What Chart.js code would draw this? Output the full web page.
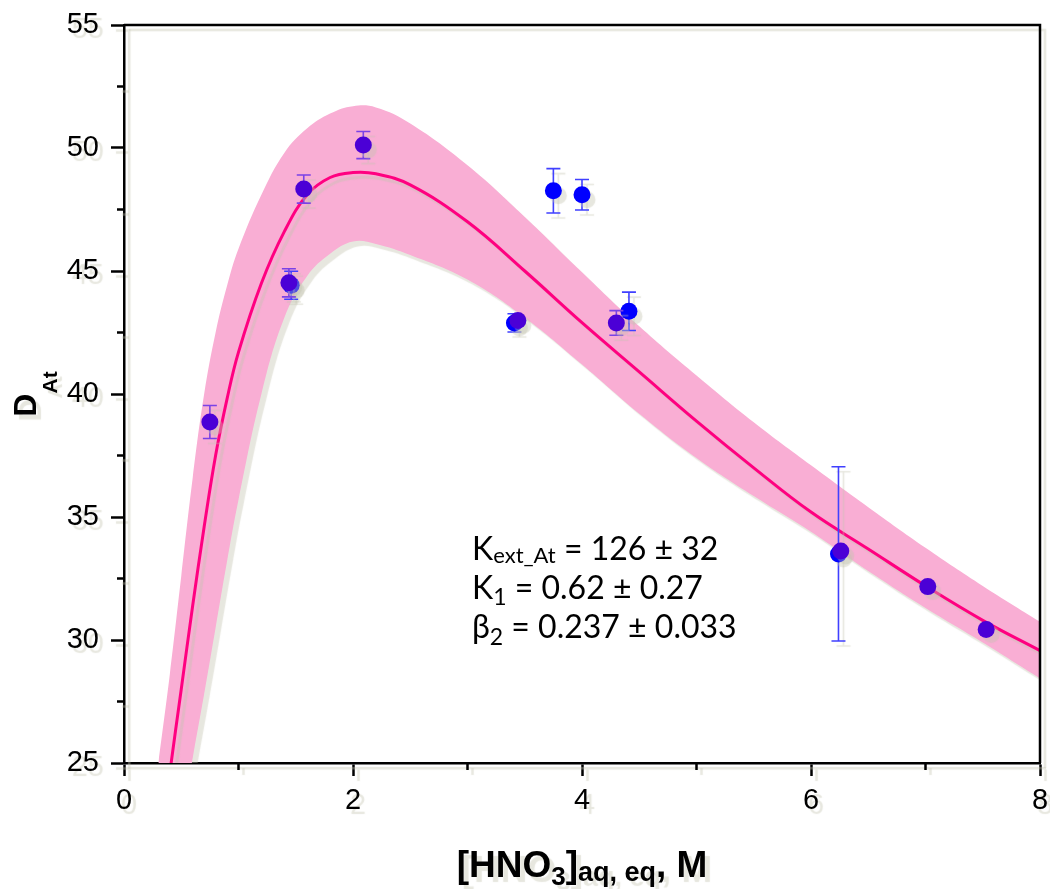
<!DOCTYPE html>
<html>
<head>
<meta charset="utf-8">
<script src="https://cdn.jsdelivr.net/npm/chart.js@4.4.0/dist/chart.umd.min.js"></script>
<style>
    html, body { margin: 0; padding: 0; background: #fff; }
    #wrap { width: 1050px; height: 889px; }
</style>
</head>
<body>
<div id="wrap"><canvas id="chart"></canvas></div>
<script>
// measured points (purple set, drawn on top)
const purpleX = [0.75, 1.44, 1.57, 2.09, 3.44, 4.30, 6.26, 7.02, 7.53];
const purpleY = [38.86, 44.52, 48.33, 50.12, 42.99, 42.89, 33.62, 32.17, 30.43];
const purpleErr = [0.67, 0.57, 0.57, 0.55, 0, 0.50, 0, 0, 0];

// measured points (blue set)
const blueX = [1.46, 3.41, 3.75, 4.00, 4.41, 6.24];
const blueY = [44.42, 42.89, 48.26, 48.10, 43.36, 33.50];
const blueErr = [0.57, 0.37, 0.90, 0.62, 0.78, 3.54];

// fitted curve and its confidence band
const fitX = [0.3, 0.4, 0.5, 0.6, 0.7, 0.8, 0.9, 1.0, 1.2, 1.4, 1.6, 1.8, 2.0, 2.2, 2.5, 3.0, 3.5, 4.0, 4.5, 5.0, 5.5, 6.0, 6.5, 7.0, 7.5, 8.0];
const fitY = [21.0, 24.6, 28.0, 31.4, 34.6, 37.5, 39.8, 41.7, 44.5, 46.6, 48.1, 48.8, 49.0, 48.95, 48.5, 47.0, 45.0, 42.9, 40.9, 38.9, 37.0, 35.2, 33.7, 32.2, 30.8, 29.57];
const bandUpper = [25.0, 28.6, 32.6, 36.6, 40.0, 42.5, 44.4, 45.9, 48.1, 49.8, 50.8, 51.4, 51.7, 51.65, 51.0, 49.3, 47.2, 44.95, 42.75, 40.75, 38.85, 37.1, 35.4, 33.75, 32.2, 30.74];
const bandLower = [16.5, 19.6, 22.5, 25.2, 27.8, 30.5, 33.2, 35.7, 40.0, 43.1, 44.8, 45.7, 46.2, 46.1, 45.65, 44.65, 43.1, 41.2, 39.2, 37.4, 35.85, 34.4, 32.8, 31.3, 29.9, 28.44];

// minor tick positions
const minorX = [1, 3, 5, 7];
const minorY = [27.5, 32.5, 37.5, 42.5, 47.5, 52.5];

const fitText = [
    [['K', 32, 0], ['ext_At', 22, 3], [' = 126 \u00b1 32', 32, 0]],
    [['K', 32, 0], ['1', 23, 6], [' = 0.62 \u00b1 0.27', 32, 0]],
    [['\u03b2', 32, 0], ['2', 23, 7], [' = 0.237 \u00b1 0.033', 32, 0]]
];

function toPoints(xs, ys) {
    return xs.map((x, i) => ({ x: x, y: ys[i] }));
}

function drawRuns(ctx, runs, x, y, center) {
    let total = 0;
    runs.forEach(r => { ctx.font = r.font; r.w = ctx.measureText(r.text).width; total += r.w; });
    let cx = center ? x - total / 2 : x;
    runs.forEach(r => {
        ctx.font = r.font;
        ctx.fillText(r.text, cx, y + (r.dy || 0));
        cx += r.w;
    });
}

// grey offset "ghost" that the original export has on everything
const ghostShadow = {
    id: 'ghostShadow',
    beforeDraw(chart) {
        const ctx = chart.ctx;
        ctx.save();
        ctx.shadowColor = 'rgba(195,195,175,0.4)';
        ctx.shadowOffsetX = 5;
        ctx.shadowOffsetY = 5;
        ctx.shadowBlur = 1;
    },
    afterDraw(chart) {
        chart.ctx.restore();
    }
};

const errorBars = {
    id: 'errorBars',
    beforeDatasetDraw(chart, args) {
        const ds = chart.data.datasets[args.index];
        if (!ds.yErr) return;
        const ctx = chart.ctx;
        const xs = chart.scales.x, ys = chart.scales.y;
        ctx.save();
        ctx.strokeStyle = ds.errColor;
        ctx.lineWidth = 1.6;
        ds.data.forEach((p, i) => {
            const e = ds.yErr[i];
            if (!e) return;
            const px = xs.getPixelForValue(p.x);
            const top = ys.getPixelForValue(p.y + e);
            const bot = ys.getPixelForValue(p.y - e);
            ctx.beginPath();
            ctx.moveTo(px, top); ctx.lineTo(px, bot);
            ctx.moveTo(px - 7, top); ctx.lineTo(px + 7, top);
            ctx.moveTo(px - 7, bot); ctx.lineTo(px + 7, bot);
            ctx.stroke();
        });
        ctx.restore();
    }
};

const extras = {
    id: 'extras',
    beforeDraw(chart) {
        const ctx = chart.ctx;
        const area = chart.chartArea;
        ctx.save();
        ctx.fillStyle = '#000';
        ctx.textAlign = 'left';
        ctx.textBaseline = 'alphabetic';
        const bold = s => 'bold ' + s + 'px "Liberation Sans", Arial, sans-serif';
        // x title
        drawRuns(ctx, [
            { text: '[HNO', font: bold(37) },
            { text: '3', font: bold(26), dy: 8 },
            { text: ']', font: bold(37) },
            { text: 'aq, eq', font: bold(27), dy: 4 },
            { text: ', M', font: bold(37) }
        ], (area.left + area.right) / 2, 877, true);
        // y title
        ctx.translate(36, (area.top + area.bottom) / 2);
        ctx.rotate(-Math.PI / 2);
        drawRuns(ctx, [
            { text: 'D', font: bold(32) },
            { text: 'At', font: bold(21), dy: 21 }
        ], 0, 0, true);
        ctx.restore();
    },
    afterDatasetsDraw(chart) {
        const ctx = chart.ctx;
        const area = chart.chartArea;
        const xs = chart.scales.x, ys = chart.scales.y;
        ctx.save();
        ctx.strokeStyle = '#000';
        ctx.lineWidth = 2.5;
        ctx.beginPath();
        ctx.moveTo(area.left, area.top); ctx.lineTo(area.right, area.top);
        ctx.lineTo(area.right, area.bottom);
        ctx.stroke();
        ctx.beginPath();
        minorX.forEach(v => {
            const px = xs.getPixelForValue(v);
            ctx.moveTo(px, area.bottom); ctx.lineTo(px, area.bottom + 7);
        });
        minorY.forEach(v => {
            const py = ys.getPixelForValue(v);
            ctx.moveTo(area.left, py); ctx.lineTo(area.left - 7, py);
        });
        ctx.stroke();
        ctx.restore();
    },
    afterDraw(chart) {
        // fit parameters, no ghost here
        const ctx = chart.ctx;
        ctx.save();
        ctx.fillStyle = '#000';
        ctx.textAlign = 'left';
        ctx.textBaseline = 'alphabetic';
        const baselines = [560, 599, 638];
        fitText.forEach((line, i) => {
            const runs = line.map(r => ({ text: r[0], font: r[1] + 'px Lato, "Noto Sans", sans-serif', dy: r[2] }));
            drawRuns(ctx, runs, 472, baselines[i], false);
        });
        ctx.restore();
    }
};

function noPadding(scale) {
    scale.paddingLeft = 0;
    scale.paddingRight = 0;
    scale.paddingTop = 0;
    scale.paddingBottom = 0;
}

const axisFont = { family: '"Liberation Sans", Arial, sans-serif', size: 29 };

new Chart(document.getElementById('chart'), {
    type: 'scatter',
    data: {
        datasets: [{
            label: 'purple',
            data: toPoints(purpleX, purpleY),
            yErr: purpleErr,
            errColor: '#7a42e6',
            backgroundColor: '#4b00d6',
            borderWidth: 0,
            pointRadius: 8.5
        }, {
            label: 'blue',
            data: toPoints(blueX, blueY),
            yErr: blueErr,
            errColor: '#4040ff',
            backgroundColor: '#0000ff',
            borderWidth: 0,
            pointRadius: 8.5
        }, {
            label: 'fit',
            data: toPoints(fitX, fitY),
            showLine: true,
            borderColor: '#ff0080',
            borderWidth: 3,
            pointRadius: 0,
            tension: 0.4
        }, {
            label: 'upper',
            data: toPoints(fitX, bandUpper),
            showLine: true,
            borderWidth: 0,
            borderColor: 'rgba(0,0,0,0)',
            backgroundColor: '#f9aed4',
            fill: '+1',
            pointRadius: 0,
            tension: 0.4
        }, {
            label: 'lower',
            data: toPoints(fitX, bandLower),
            showLine: true,
            borderWidth: 0,
            borderColor: 'rgba(0,0,0,0)',
            pointRadius: 0,
            tension: 0.4
        }]
    },
    options: {
        responsive: true,
        maintainAspectRatio: false,
        animation: false,
        layout: { padding: { top: 25, right: 10, left: 0, bottom: 0 } },
        plugins: {
            legend: { display: false },
            tooltip: { enabled: false }
        },
        scales: {
            x: {
                type: 'linear',
                min: 0,
                max: 8,
                afterFit(scale) { scale.height = 126; noPadding(scale); },
                border: { display: true, color: '#000', width: 2.5 },
                grid: { drawOnChartArea: false, drawTicks: true, tickLength: 13, tickColor: '#000', tickWidth: 2.5 },
                ticks: { stepSize: 2, color: '#000', font: axisFont, padding: 8 }
            },
            y: {
                type: 'linear',
                min: 25,
                max: 55,
                afterFit(scale) { scale.width = 124; noPadding(scale); },
                border: { display: true, color: '#000', width: 2.5 },
                grid: { drawOnChartArea: false, drawTicks: true, tickLength: 13, tickColor: '#000', tickWidth: 2.5 },
                ticks: { stepSize: 5, color: '#000', font: axisFont, padding: 12 }
            }
        }
    },
    plugins: [ghostShadow, errorBars, extras]
});
</script>
</body>
</html>
